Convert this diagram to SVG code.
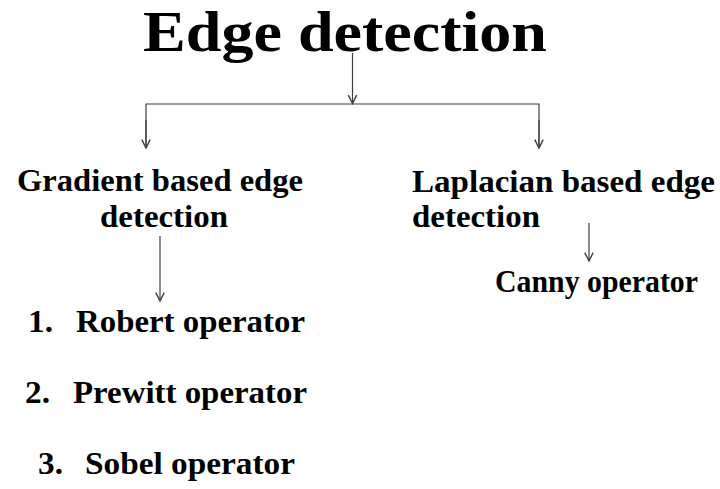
<svg xmlns="http://www.w3.org/2000/svg" width="720" height="489" viewBox="0 0 720 489">
  <style>
    text { font-family: "Liberation Serif", "Times New Roman", serif; font-weight: bold; fill: #000; }
    .title { font-size: 56px; }
    .lbl { font-size: 31px; }
    .conn { stroke: #404040; stroke-width: 1.2; fill: none; }
  </style>
  <defs>
    <marker id="vee" markerWidth="12" markerHeight="12" refX="9" refY="5" markerUnits="userSpaceOnUse" orient="auto" viewBox="0 0 10 10">
      <polyline points="2,1.5 9,5 2,8.5" fill="none" stroke="#404040" stroke-width="1.2"/>
    </marker>
  </defs>
  <rect width="720" height="489" fill="#fff"/>

  <g id="title">
    <text class="title" x="143" y="51" textLength="404" lengthAdjust="spacingAndGlyphs">Edge detection</text>
  </g>

  <g id="gradient">
    <text class="lbl" x="17" y="191" textLength="286" lengthAdjust="spacingAndGlyphs">Gradient based edge</text>
    <text class="lbl" x="100" y="227" textLength="128" lengthAdjust="spacingAndGlyphs">detection</text>
  </g>

  <g id="laplacian">
    <text class="lbl" x="412" y="192" textLength="303" lengthAdjust="spacingAndGlyphs">Laplacian based edge</text>
    <text class="lbl" x="412" y="227" textLength="128" lengthAdjust="spacingAndGlyphs">detection</text>
  </g>

  <g id="canny">
    <text class="lbl" x="495" y="292" textLength="203" lengthAdjust="spacingAndGlyphs">Canny operator</text>
  </g>

  <g id="robert">
    <text class="lbl" x="28" y="332" textLength="25" lengthAdjust="spacingAndGlyphs">1.</text>
    <text class="lbl" x="76" y="332" textLength="229" lengthAdjust="spacingAndGlyphs">Robert operator</text>
  </g>

  <g id="prewitt">
    <text class="lbl" x="25" y="403" textLength="25" lengthAdjust="spacingAndGlyphs">2.</text>
    <text class="lbl" x="73" y="403" textLength="234" lengthAdjust="spacingAndGlyphs">Prewitt operator</text>
  </g>

  <g id="sobel">
    <text class="lbl" x="38" y="474" textLength="25" lengthAdjust="spacingAndGlyphs">3.</text>
    <text class="lbl" x="85" y="474" textLength="210" lengthAdjust="spacingAndGlyphs">Sobel operator</text>
  </g>

  <g id="connectors">
    <line class="conn" x1="352.5" y1="53" x2="352.5" y2="103.5" marker-end="url(#vee)"/>
    <polyline class="conn" points="146,148 146,104 539,104 539,148"/>
    <line class="conn" x1="146" y1="120" x2="146" y2="148" marker-end="url(#vee)"/>
    <line class="conn" x1="539" y1="120" x2="539" y2="148" marker-end="url(#vee)"/>
    <line class="conn" x1="160" y1="236" x2="160" y2="301" marker-end="url(#vee)"/>
    <line class="conn" x1="589" y1="223" x2="589" y2="261" marker-end="url(#vee)"/>
  </g>
</svg>
